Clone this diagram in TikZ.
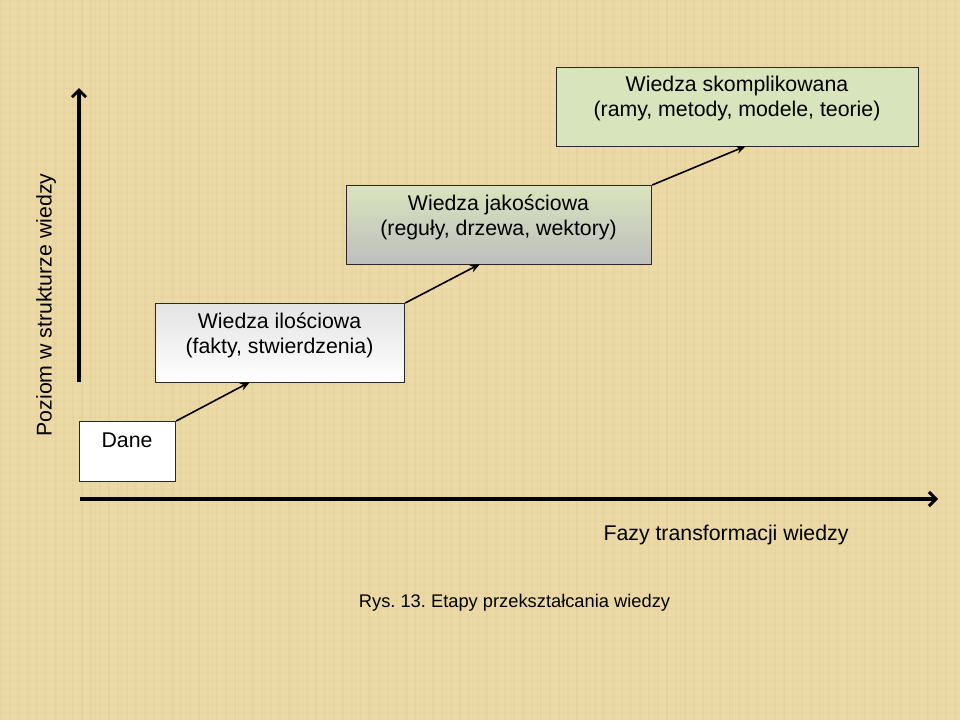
\documentclass[tikz,border=0pt]{standalone}
\usepackage{fontspec}
\setmainfont{Liberation Sans}
\frenchspacing
\usetikzlibrary{arrows.meta}
\definecolor{papyrus}{RGB}{235,217,166}
\definecolor{papyrusdark}{RGB}{216,193,136}
\definecolor{boxgreen}{RGB}{216,228,188}
\definecolor{boxgray}{RGB}{190,190,190}
\definecolor{edge}{RGB}{40,40,40}
\tikzset{
  box/.style={draw=edge, line width=1.2pt, inner sep=0pt, anchor=north west},
  txt/.style={align=center, font=\fontsize{21.3}{25}\selectfont, text=black, inner sep=0pt},
  capt/.style={font=\fontsize{18.3}{22}\selectfont, text=black, inner sep=0pt},
  axis/.style={line width=3.3pt, -{Straight Barb[length=7pt,width=14pt,line width=3pt]}},
  conn/.style={line width=1.6pt, -{Stealth[length=10pt,width=8pt]}},
}
\begin{document}
\begin{tikzpicture}[x=1pt,y=-1pt]
\useasboundingbox (0,0) rectangle (960,720);
\fill[papyrus] (0,0) rectangle (960,720);
% faint papyrus texture
\foreach \xx in {0,9,...,954}{
  \fill[papyrusdark, opacity=0.15] (\xx,0) rectangle ++(2,720);
}
\foreach \xx in {4,17,...,950}{
  \fill[papyrusdark, opacity=0.12] (\xx,0) rectangle ++(1,720);
}
\foreach \yy in {0,8,...,712}{
  \fill[papyrusdark, opacity=0.1] (0,\yy) rectangle ++(960,1.5);
}

% boxes
\node[box, fill=boxgreen, minimum width=362pt, minimum height=79pt] (sk) at (556,67) {};
\node[txt] (sktxt) at (737,98) {Wiedza skomplikowana\\(ramy, metody, modele, teorie)};

\node[box, top color=boxgreen, bottom color=boxgray, minimum width=305pt, minimum height=79pt] (jak) at (346,185) {};
\node[txt] (jaktxt) at (498.5,217) {Wiedza jakościowa\\(reguły, drzewa, wektory)};

\node[box, top color=gray!22, bottom color=white, minimum width=249pt, minimum height=79pt] (il) at (155,303) {};
\node[txt] (iltxt) at (279.5,335) {Wiedza ilościowa\\(fakty, stwierdzenia)};

\node[box, fill=white, minimum width=96pt, minimum height=60pt] (dane) at (79,421) {};
\node[txt] (danetxt) at (127,440) {Dane};

% connectors
\coordinate (ilb) at (250,382);
\coordinate (jakb) at (480,264);
\coordinate (skb) at (746,146);
\draw[conn] (dane.north east) -- (ilb);
\draw[conn] (il.north east) -- (jakb);
\draw[conn] (jak.north east) -- (skb);

% axes
\coordinate (vstart) at (79,382);
\coordinate (vend) at (79,88);
\coordinate (hstart) at (80,499);
\coordinate (hend) at (938,499);
\draw[axis] (vstart) -- (vend);
\draw[axis] (hstart) -- (hend);

\node[txt, rotate=90] (ylab) at (46,305) {Poziom w strukturze wiedzy};
\node[txt] (xlab) at (726,535) {Fazy transformacji wiedzy};
\node[capt] (cap) at (514.5,603) {Rys. 13. Etapy przekształcania wiedzy};
\end{tikzpicture}
\end{document}
